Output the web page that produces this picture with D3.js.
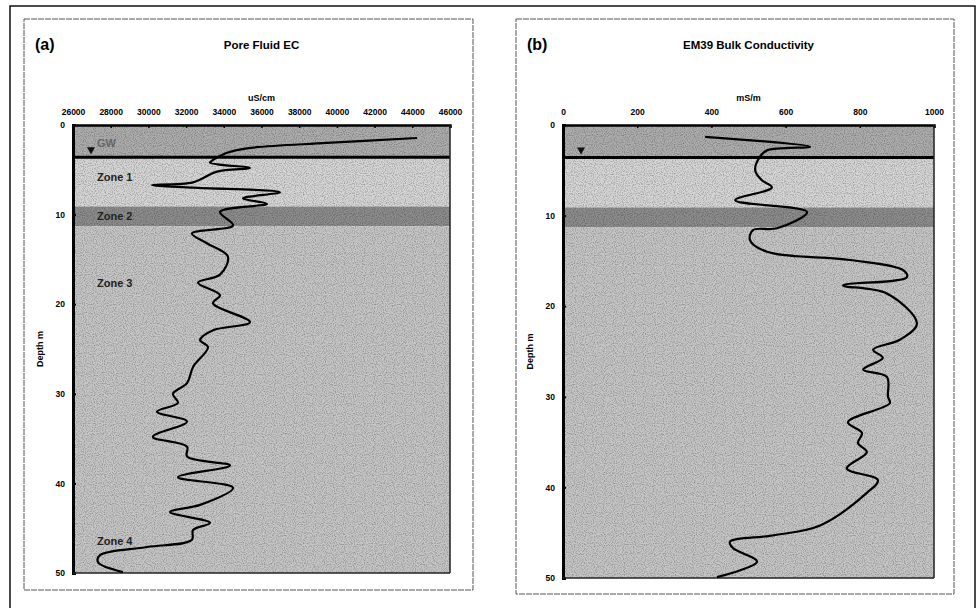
<!DOCTYPE html>
<html>
<head>
<meta charset="utf-8">
<script src="https://cdn.jsdelivr.net/npm/d3@7"></script>
<style>
	body { margin: 0; background: #fff; }
	svg { display: block; font-family: "Liberation Sans", Arial, sans-serif; font-weight: bold; }
	.tick text { font-size: 8.5px; font-weight: bold; }
</style>
</head>
<body>
<svg id="fig" width="976" height="608"></svg>
<script>
// Pore fluid EC (uS/cm) against depth (m)
const ecDepth = [1.45, 2.0, 2.6, 3.1, 3.9, 4.2, 4.8, 5.2, 6.4, 6.7, 7.0, 7.5, 8.2, 8.8, 9.7, 11.2, 12.1, 13.2, 14.7, 16.7, 17.6, 19.0, 19.9, 22.0, 22.9, 24.0, 24.8, 27.0, 28.8, 30.0, 31.0, 32.0, 33.1, 34.8, 35.9, 37.0, 38.0, 39.3, 40.5, 42.4, 43.2, 44.4, 45.2, 46.3, 47.1, 48.0, 48.8, 49.9];
const ecValue = [44250, 39470, 35230, 34170, 33430, 33270, 35390, 33640, 32370, 30190, 32370, 36980, 35020, 36290, 33800, 34490, 32310, 33100, 34220, 33800, 32630, 33800, 33430, 35390, 33430, 32740, 33160, 32370, 32050, 31300, 31570, 30460, 32050, 30240, 32050, 32050, 34330, 31570, 34490, 32740, 31150, 33270, 32370, 32310, 29930, 27430, 27330, 28650];

// EM39 bulk conductivity (mS/m) against depth (m)
const emDepth = [1.3, 2.4, 2.8, 3.5, 5.0, 6.1, 6.9, 8.3, 9.6, 11.4, 11.6, 12.7, 14.0, 14.9, 16.0, 16.8, 17.7, 18.6, 21.9, 23.7, 24.8, 25.7, 27.0, 27.8, 30.0, 30.7, 32.8, 34.0, 35.1, 36.1, 37.9, 39.2, 40.6, 44.2, 45.3, 46.0, 46.7, 48.2, 49.9];
const emValue = [383, 666, 550, 531, 518, 536, 563, 464, 658, 577, 512, 504, 550, 774, 916, 927, 755, 873, 954, 908, 836, 862, 809, 873, 876, 881, 768, 806, 795, 819, 765, 849, 819, 693, 566, 450, 458, 523, 415];

const ecTicks = [26000, 28000, 30000, 32000, 34000, 36000, 38000, 40000, 42000, 44000, 46000];
const emTicks = [0, 200, 400, 600, 800, 1000];
const depthTicks = [0, 10, 20, 30, 40, 50];

// depth bands: top, bottom, fill
const bandTop = [0, 3.6, 9.1, 11.3];
const bandBottom = [3.6, 9.1, 11.3, 50];
const bandFill = ["#adadad", "#d6d6d6", "#8c8c8c", "#c6c6c6"];
const waterTable = 3.6;

const zoneNames = ["GW", "Zone 1", "Zone 2", "Zone 3", "Zone 4"];
const zoneDepth = [2.0, 5.8, 10.2, 17.6, 46.4];

const svg = d3.select("#fig");

// speckled texture like the scanned print
const defs = svg.append("defs");
const filt = defs.append("filter").attr("id", "grain").attr("x", 0).attr("y", 0).attr("width", 1).attr("height", 1);
filt.append("feTurbulence").attr("type", "fractalNoise").attr("baseFrequency", 0.9).attr("numOctaves", 1).attr("seed", 3).attr("result", "n");
filt.append("feColorMatrix").attr("in", "n").attr("type", "matrix")
	.attr("values", "0 0 0 0 0  0 0 0 0 0  0 0 0 0 0  0 0 0 -2.2 1.25").attr("result", "dots");
filt.append("feComposite").attr("in", "dots").attr("in2", "SourceGraphic").attr("operator", "in");

// outer frame
svg.append("rect").attr("x", 10).attr("y", 6).attr("width", 965).attr("height", 620)
	.attr("fill", "none").attr("stroke", "#111").attr("stroke-width", 1.5);

function drawPanel(cfg) {
	const g = svg.append("g");
	g.append("rect").attr("x", cfg.box[0]).attr("y", cfg.box[1]).attr("width", cfg.box[2]).attr("height", cfg.box[3])
		.attr("fill", "none").attr("stroke", "#555").attr("stroke-width", 1).attr("stroke-dasharray", "6,1");

	const x = d3.scaleLinear().domain(cfg.xDomain).range([cfg.left, cfg.right]);
	const y = d3.scaleLinear().domain([0, 50]).range([cfg.top, cfg.bottom]);

	g.append("text").attr("x", cfg.box[0] + 11).attr("y", 50).attr("font-size", 16).text(cfg.tag);
	g.append("text").attr("x", (cfg.left + cfg.right) / 2).attr("y", 49).attr("text-anchor", "middle")
		.attr("font-size", 11.5).text(cfg.title);
	g.append("text").attr("x", (cfg.left + cfg.right) / 2).attr("y", 101).attr("text-anchor", "middle")
		.attr("font-size", 9).text(cfg.unit);

	// bands
	g.append("g").selectAll("rect").data(bandTop).join("rect")
		.attr("x", cfg.left).attr("width", cfg.right - cfg.left)
		.attr("y", (d) => y(d)).attr("height", (d, i) => y(bandBottom[i]) - y(d))
		.attr("fill", (d, i) => bandFill[i]);
	g.append("rect").attr("x", cfg.left).attr("y", cfg.top).attr("width", cfg.right - cfg.left).attr("height", cfg.bottom - cfg.top)
		.attr("fill", "#fff").attr("filter", "url(#grain)").attr("opacity", 0.35);

	// water table
	g.append("line").attr("x1", cfg.left).attr("x2", cfg.right).attr("y1", y(waterTable)).attr("y2", y(waterTable))
		.attr("stroke", "#000").attr("stroke-width", 3);
	const tx = cfg.left + 18, ty = y(waterTable) - 3;
	g.append("path").attr("d", `M${tx - 4},${ty - 7}L${tx + 4},${ty - 7}L${tx},${ty}Z`).attr("fill", "#111");

	if (cfg.zones) {
		g.selectAll(".zone").data(zoneNames).join("text").attr("class", "zone")
			.attr("x", cfg.left + 24).attr("y", (d, i) => y(zoneDepth[i]) + 4)
			.attr("font-size", 11).attr("fill", (d, i) => i === 0 ? "#666" : "#222")
			.text((d) => d);
	}

	// axes
	const top = g.append("g").attr("transform", `translate(0,${cfg.top})`)
		.call(d3.axisTop(x).tickValues(cfg.xTicks).tickFormat(d3.format("d")).tickSize(-3).tickPadding(10));
	top.select(".domain").attr("stroke-width", 2.5);
	top.selectAll(".tick line").attr("stroke-width", 1.5);

	const left = g.append("g").attr("transform", `translate(${cfg.left},0)`)
		.call(d3.axisLeft(y).tickValues(depthTicks).tickSize(-3).tickPadding(8));
	left.select(".domain").attr("stroke-width", 3);
	left.selectAll(".tick line").attr("stroke-width", 2);
	g.append("line").attr("x1", cfg.left).attr("x2", cfg.right).attr("y1", cfg.bottom).attr("y2", cfg.bottom)
		.attr("stroke", "#222").attr("stroke-width", 1.5);
	g.append("line").attr("x1", cfg.right).attr("x2", cfg.right).attr("y1", cfg.top).attr("y2", cfg.bottom)
		.attr("stroke", "#222").attr("stroke-width", 1.5);

	g.append("text").attr("transform", `translate(${cfg.left - 30},${(cfg.top + cfg.bottom) / 2}) rotate(-90)`)
		.attr("text-anchor", "middle").attr("font-size", 9).text("Depth m");

	// profile
	const line = d3.line()
		.curve(d3.curveCatmullRom.alpha(0.5))
		.x((d, i) => x(cfg.values[i]))
		.y((d) => y(d));
	g.append("path").datum(cfg.depths).attr("d", line)
		.attr("fill", "none").attr("stroke", "#000").attr("stroke-width", 2.2).attr("stroke-linejoin", "round");
}

drawPanel({
	box: [24, 19, 449, 571], left: 73, right: 450, top: 125, bottom: 573,
	xDomain: [26000, 46000], xTicks: ecTicks, tag: "(a)", title: "Pore Fluid EC", unit: "uS/cm",
	depths: ecDepth, values: ecValue, zones: true
});
drawPanel({
	box: [516, 19, 438, 575], left: 563, right: 934, top: 125, bottom: 578,
	xDomain: [0, 1000], xTicks: emTicks, tag: "(b)", title: "EM39 Bulk Conductivity", unit: "mS/m",
	depths: emDepth, values: emValue, zones: false
});
</script>
</body>
</html>
